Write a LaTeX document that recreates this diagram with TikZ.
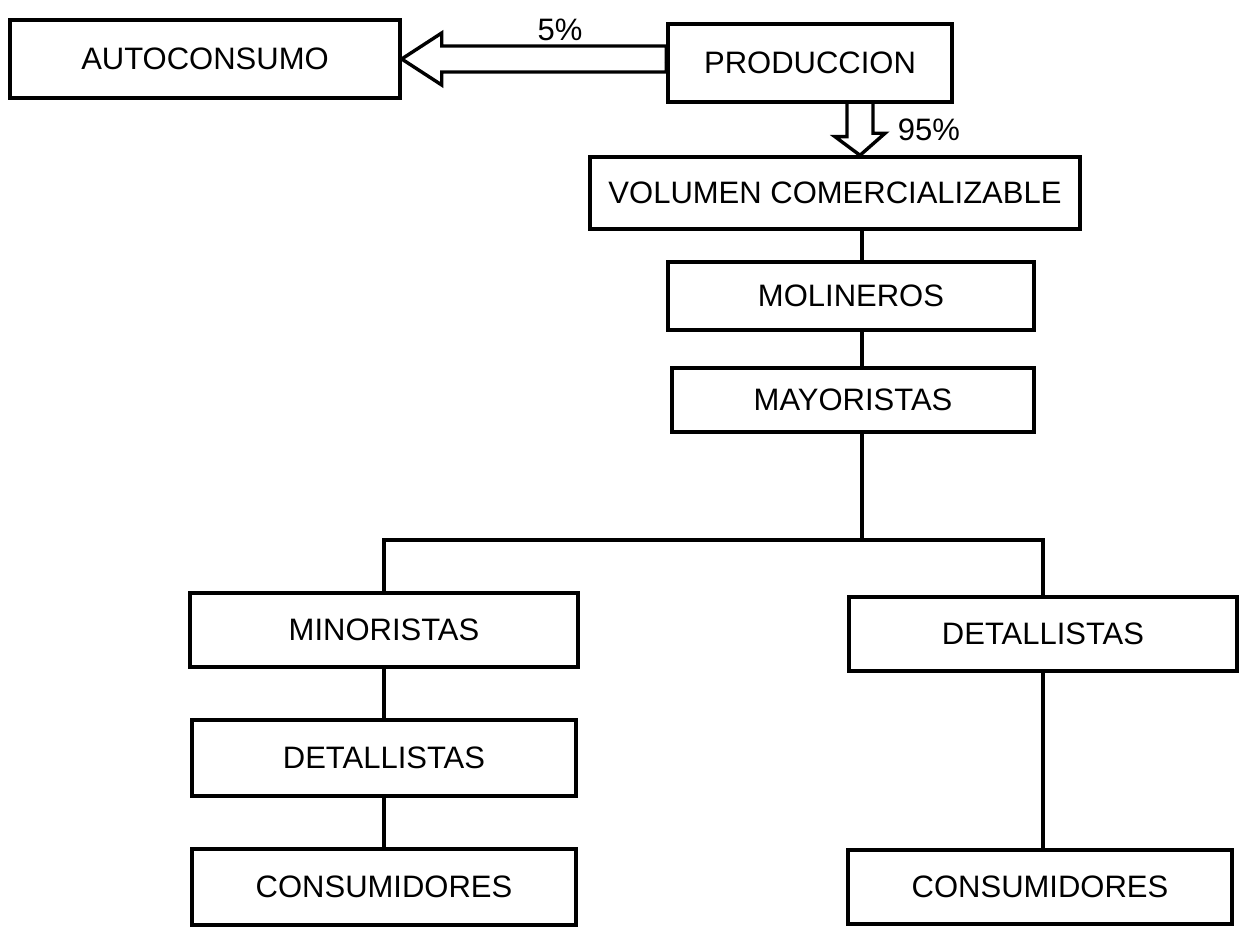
\documentclass[tikz,border=0pt]{standalone}
\usepackage{fontspec}
\setmainfont{Liberation Sans}
\usepackage{tikz}
\tikzset{
  chain_box/.style={draw, rectangle, line width = 1.7pt, inner sep = 0, font = \fontsize{15.5}{18}\selectfont},
  chain_line/.style={line width = 1.7pt},
  block_arrow/.style={line width = 1.7pt, line join = miter},
  pct_label/.style={draw = none, font = \fontsize{15.5}{18}\selectfont}}

\begin{document}
\begin{tikzpicture}[x = 0.5pt, y = -0.5pt]

\useasboundingbox (0,0) rectangle (1240,929);

% top row
\node[chain_box, minimum width = 195pt, minimum height = 39pt] at (205,59) (auto) {AUTOCONSUMO};
\node[chain_box, minimum width = 142pt, minimum height = 39pt] at (810,63) (prod) {PRODUCCION};

%%% trunk
\node[chain_box, minimum width = 245pt, minimum height = 36pt] at (835,193) (vol) {VOLUMEN COMERCIALIZABLE};
\node[chain_box, minimum width = 183pt, minimum height = 34pt] at (851,296) (mol) {MOLINEROS};
\node[chain_box, minimum width = 181pt, minimum height = 32pt] at (853,400) (may) {MAYORISTAS};

%%% left branch
\node[chain_box, minimum width = 194pt, minimum height = 37pt] at (384,630) (min) {MINORISTAS};
\node[chain_box, minimum width = 192pt, minimum height = 38pt] at (384,758) (detl) {DETALLISTAS};
\node[chain_box, minimum width = 192pt, minimum height = 38pt] at (384,887) (consl) {CONSUMIDORES};

%%% right branch
\node[chain_box, minimum width = 194pt, minimum height = 37pt] at (1043,634) (detr) {DETALLISTAS};
\node[chain_box, minimum width = 192pt, minimum height = 37pt] at (1040,887) (consr) {CONSUMIDORES};

% block arrows with shares
\draw[block_arrow] (auto.east) -- ++(40,-26) -- ++(0,13) -| (prod.west);
\draw[block_arrow] (auto.east) -- ++(40,26) -- ++(0,-13) -| (prod.west);
\node[pct_label] at (560,30) (pct_auto) {5\%};

\coordinate (down_arrow) at (860,0);
\coordinate (down_left) at (847,0);
\coordinate (down_right) at (873,0);
\draw[block_arrow] (prod.south -| down_left) -- ++(0,33) -- ++(-12,0) -- (vol.north -| down_arrow)
  -- ++(25,-22) -- ++(-12,0) -- (prod.south -| down_right);
\node[pct_label] at (929,130) (pct_vol) {95\%};

% connectors
\coordinate (trunk) at (862,540);
\draw[chain_line] (vol.south -| trunk) -- (mol.north -| trunk);
\draw[chain_line] (mol.south -| trunk) -- (may.north -| trunk);
\draw[chain_line] (may.south -| trunk) -- (trunk);
\draw[chain_line] (min.north) |- (trunk) -| (detr.north);
\draw[chain_line] (min.south) -- (detl.north);
\draw[chain_line] (detl.south) -- (consl.north);
\draw[chain_line] (detr.south) -- (detr.south |- consr.north);

\end{tikzpicture}
\end{document}
